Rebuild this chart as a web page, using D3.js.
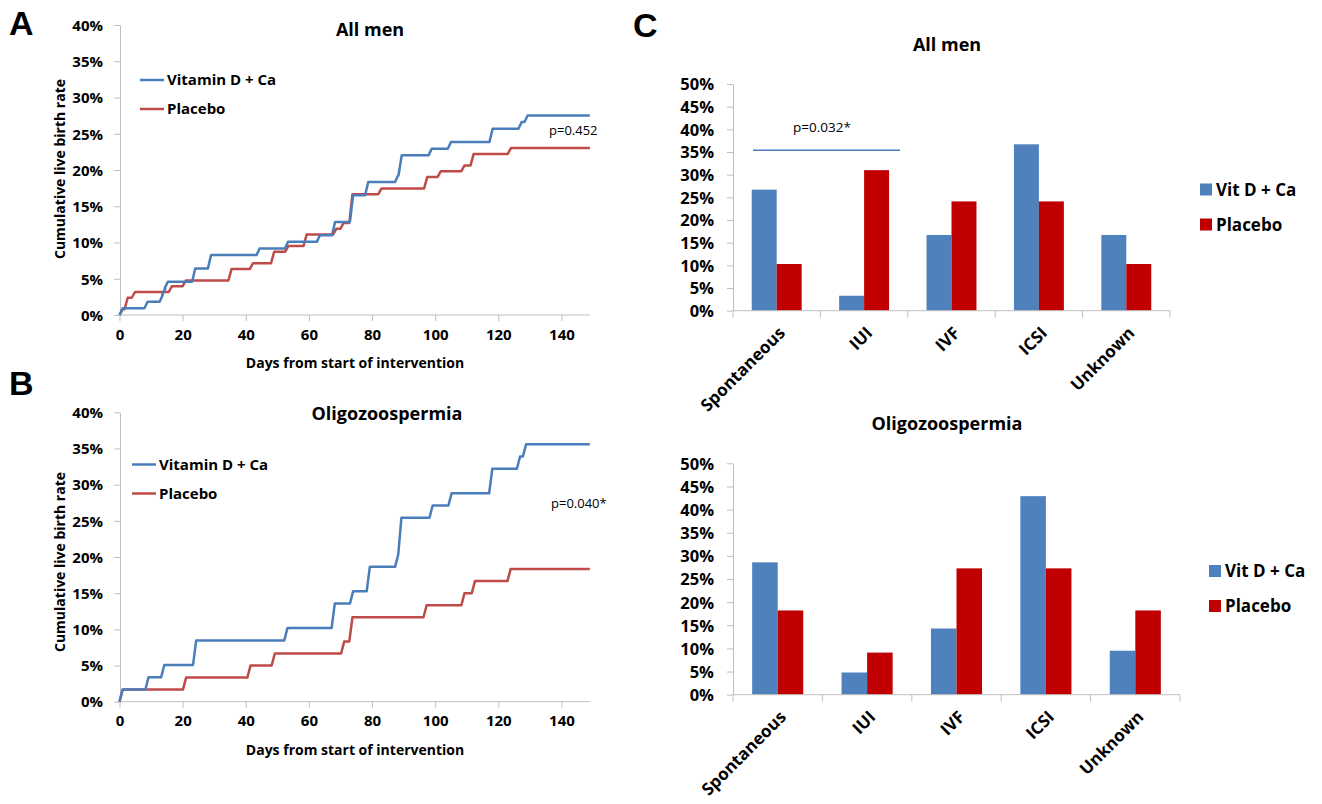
<!DOCTYPE html>
<html>
<head>
<meta charset="utf-8">
<script src="https://cdn.jsdelivr.net/npm/d3@7"></script>
<style>
body { margin: 0; background: #fff; }
svg text { font-family: "Open Sans", sans-serif; fill: #000; }
</style>
</head>
<body>
<svg id="fig" width="1322" height="804"></svg>
<script>
// Kaplan-Meier style steps: [day the step starts, cumulative live birth rate %]
const allMenVitD = [[0, 0.92], [7.9, 1.83], [12.7, 2.75], [13.5, 3.67], [14.3, 4.59], [23, 6.42], [28, 8.26],
    [43.4, 9.17], [52.4, 10.09], [62.5, 11.01], [67.3, 12.84], [73, 16.51], [77.8, 18.35], [87.3, 19.27],
    [88.4, 22.02], [97.9, 22.94], [104, 23.85], [117.2, 25.69], [126.4, 26.61], [128.3, 27.52]];
const allMenPlacebo = [[0, 0.79], [1.6, 2.38], [3.9, 3.17], [15.6, 3.97], [20, 4.76], [34.5, 6.35], [41.3, 7.14],
    [48, 8.73], [52.5, 9.52], [58.3, 11.11], [67.7, 11.90], [70, 12.70], [72.8, 16.67], [82, 17.46],
    [96.5, 19.05], [100.8, 19.84], [108.3, 20.63], [111.2, 22.22], [123, 23.02]];
const oligoVitD = [[0, 1.69], [8.2, 3.39], [13.2, 5.08], [23.3, 8.47], [52.2, 10.17], [67.2, 13.56], [73, 15.25],
    [78.3, 18.64], [87.3, 20.34], [88.3, 25.42], [98.2, 27.12], [104.2, 28.81], [117.1, 32.20],
    [125.9, 33.90], [127.8, 35.59]];
const oligoPlacebo = [[0, 1.67], [20.1, 3.33], [40.5, 5.00], [48.2, 6.67], [70.2, 8.33], [72.8, 11.67],
    [96.3, 13.33], [108.3, 15.00], [111.6, 16.67], [122.9, 18.33]];
const lastDay = 149;
const dayTicks = [0, 20, 40, 60, 80, 100, 120, 140];
const rateTicks = [0, 5, 10, 15, 20, 25, 30, 35, 40];

// Mode of conception, % of live births
const modes = ["Spontaneous", "IUI", "IVF", "ICSI", "Unknown"];
const modeAllVitD = [26.7, 3.3, 16.7, 36.7, 16.7];
const modeAllPlacebo = [10.3, 31.0, 24.1, 24.1, 10.3];
const modeOligoVitD = [28.6, 4.8, 14.3, 42.9, 9.5];
const modeOligoPlacebo = [18.2, 9.1, 27.3, 27.3, 18.2];
const modeTicks = [0, 5, 10, 15, 20, 25, 30, 35, 40, 45, 50];

const lineBlue = "#4a7ebb", lineRed = "#be4b48";
const barBlue = "#4f81bd", barRed = "#c00000";
const axisGrey = "#bfbfbf";

const svg = d3.select("#fig");

// panel letters
[["A", 9, 35], ["B", 9, 395], ["C", 633, 37]].forEach(([t, x, y]) => {
    svg.append("text").attr("x", x).attr("y", y).text(t)
        .style("font-family", "'Liberation Sans', Arial, sans-serif")
        .style("font-weight", "bold").style("font-size", "34px");
});

// step path with a one-day riser for each event
function stepPoints(steps) {
    const pts = [[0, 0]];
    let prev = 0;
    steps.forEach(([d, v]) => {
        pts.push([d, prev]);
        pts.push([d + 1, v]);
        prev = v;
    });
    pts.push([lastDay, prev]);
    return pts;
}

function drawKM(cfg) {
    const x = d3.scaleLinear().domain([0, 150]).range([119.5, 593]);
    const y = d3.scaleLinear().domain([0, 40]).range([cfg.y0, cfg.y40]);
    const g = svg.append("g");

    // y axis
    const yAxis = g.append("g").attr("transform", "translate(120,0)")
        .call(d3.axisLeft(y).tickValues(rateTicks).tickSize(6).tickSizeOuter(0).tickFormat(d => d + "%"));
    yAxis.selectAll("text").attr("x", -17).attr("dy", "0.35em")
        .style("font-weight", "bold").style("font-size", "15px").style("font-family", "'Open Sans', sans-serif");

    // x axis
    const xAxis = g.append("g").attr("transform", `translate(0,${cfg.y0})`)
        .call(d3.axisBottom(x).tickValues(dayTicks).tickSize(6).tickSizeOuter(0));
    xAxis.selectAll("text").attr("y", 14).attr("dy", "0.71em")
        .style("font-weight", "bold").style("font-size", "15px").style("font-family", "'Open Sans', sans-serif");
    g.selectAll(".domain, .tick line").attr("stroke", axisGrey);
    xAxis.select(".domain").attr("d", `M${x(0)},0H590`);

    const line = d3.line().x(p => x(p[0])).y(p => y(p[1]));
    [[cfg.placebo, lineRed], [cfg.vitd, lineBlue]].forEach(([s, c]) => {
        g.append("path").attr("d", line(stepPoints(s)))
            .attr("fill", "none").attr("stroke", c).attr("stroke-width", 2.5)
            .attr("stroke-linejoin", "round");
    });

    // titles
    g.append("text").attr("x", cfg.titleX).attr("y", cfg.titleY).attr("text-anchor", "middle")
        .style("font-weight", "bold").style("font-size", "18px").text(cfg.title);
    g.append("text").attr("x", 355).attr("y", cfg.y0 + 53).attr("text-anchor", "middle")
        .style("font-weight", "bold").style("font-size", "14px").text("Days from start of intervention");
    g.append("text").attr("transform", `translate(65,${cfg.yTitle}) rotate(-90)`).attr("text-anchor", "middle")
        .style("font-weight", "bold").style("font-size", "14px").text("Cumulative live birth rate");

    // legend
    [["Vitamin D + Ca", lineBlue, cfg.legY], ["Placebo", lineRed, cfg.legY + 29]].forEach(([t, c, ly]) => {
        g.append("line").attr("x1", cfg.legX).attr("x2", cfg.legX + 24).attr("y1", ly).attr("y2", ly)
            .attr("stroke", c).attr("stroke-width", 2.5);
        g.append("text").attr("x", cfg.legX + 27).attr("y", ly).attr("dy", "0.36em")
            .style("font-weight", "bold").style("font-size", "15px").text(t);
    });

    g.append("text").attr("x", cfg.pX).attr("y", cfg.pY).style("font-size", "13px").text(cfg.p);
}

drawKM({ y0: 315, y40: 25, vitd: allMenVitD, placebo: allMenPlacebo, title: "All men", titleX: 370, titleY: 36,
    yTitle: 169, legX: 140, legY: 80, pX: 549, pY: 135, p: "p=0.452" });
drawKM({ y0: 701.7, y40: 412.3, vitd: oligoVitD, placebo: oligoPlacebo, title: "Oligozoospermia", titleX: 387, titleY: 420,
    yTitle: 562, legX: 132, legY: 464.5, pX: 551, pY: 508, p: "p=0.040*" });

function drawBars(cfg) {
    const x = d3.scaleBand().domain(modes).range([733, cfg.xEnd]);
    const inner = d3.scaleBand().domain(["vitd", "placebo"]).range([0, x.bandwidth()]).paddingOuter(0.75);
    const y = d3.scaleLinear().domain([0, 50]).range([cfg.y0, cfg.y50]);
    const g = svg.append("g");

    const yAxis = g.append("g").attr("transform", "translate(733,0)")
        .call(d3.axisLeft(y).tickValues(modeTicks).tickSize(6).tickSizeOuter(0).tickFormat(d => d + "%"));
    yAxis.selectAll("text").attr("x", -19).attr("dy", "0.36em")
        .style("font-weight", "bold").style("font-size", "16.5px").style("font-family", "'Open Sans', sans-serif");
    yAxis.selectAll(".domain, .tick line").attr("stroke", axisGrey);

    const rows = modes.map((m, i) => ({ mode: m, vitd: cfg.vitd[i], placebo: cfg.placebo[i] }));
    const grp = g.selectAll(".cat").data(rows).join("g").attr("transform", d => `translate(${x(d.mode)},0)`);
    [["vitd", barBlue], ["placebo", barRed]].forEach(([k, c]) => {
        grp.append("rect").attr("x", inner(k)).attr("width", inner.bandwidth())
            .attr("y", d => y(d[k])).attr("height", d => cfg.y0 - y(d[k])).attr("fill", c);
    });

    // category axis, ticks between categories
    g.append("line").attr("x1", 733).attr("x2", cfg.xEnd).attr("y1", cfg.y0).attr("y2", cfg.y0).attr("stroke", axisGrey);
    g.selectAll(".ctick").data(modes.map(m => x(m)).concat([cfg.xEnd])).join("line")
        .attr("x1", d => d).attr("x2", d => d).attr("y1", cfg.y0).attr("y2", cfg.y0 + 7).attr("stroke", axisGrey);
    g.selectAll(".clab").data(modes).join("text")
        .attr("transform", d => `translate(${x(d) + x.bandwidth() / 2 + 1},${cfg.y0 + 15}) rotate(-45)`)
        .attr("text-anchor", "end").attr("dy", "0.7em")
        .style("font-weight", "bold").style("font-size", "17px").text(d => d);

    g.append("text").attr("x", 947).attr("y", cfg.titleY).attr("text-anchor", "middle")
        .style("font-weight", "bold").style("font-size", "18px").text(cfg.title);

    [["Vit D + Ca", barBlue, cfg.legY], ["Placebo", barRed, cfg.legY + 35]].forEach(([t, c, ly]) => {
        g.append("rect").attr("x", cfg.legX).attr("y", ly - 6).attr("width", 12).attr("height", 12).attr("fill", c);
        g.append("text").attr("x", cfg.legX + 16).attr("y", ly).attr("dy", "0.36em")
            .style("font-weight", "bold").style("font-size", "17px").text(t);
    });

    if (cfg.p) {
        g.append("line").attr("x1", 753).attr("x2", 900).attr("y1", y(35.4)).attr("y2", y(35.4))
            .attr("stroke", lineBlue).attr("stroke-width", 1.5);
        g.append("text").attr("x", 822).attr("y", y(35.4) - 18).attr("text-anchor", "middle")
            .style("font-size", "13.5px").text(cfg.p);
    }
}

drawBars({ y0: 310.7, y50: 84, xEnd: 1170, vitd: modeAllVitD, placebo: modeAllPlacebo, title: "All men", titleY: 51,
    legX: 1200, legY: 189.5, p: "p=0.032*" });
drawBars({ y0: 694.7, y50: 463.3, xEnd: 1180, vitd: modeOligoVitD, placebo: modeOligoPlacebo, title: "Oligozoospermia", titleY: 430,
    legX: 1209, legY: 571 });
</script>
</body>
</html>
